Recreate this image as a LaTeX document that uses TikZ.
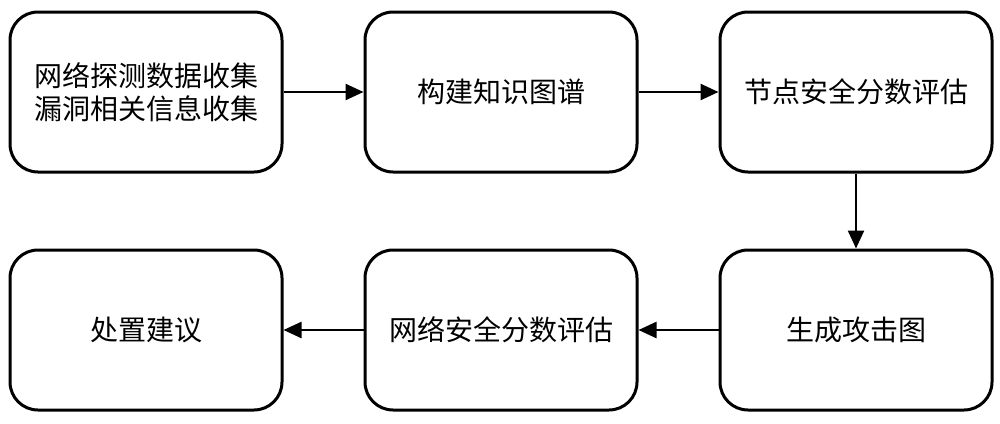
\documentclass[tikz,border=0pt]{standalone}
\usepackage{fontspec}
\newfontfamily\cjk{Noto Sans CJK SC}
\usetikzlibrary{positioning,arrows.meta}

\begin{document}
\begin{tikzpicture}[node distance=37.5pt and 40pt]
	\tikzset{stepbox/.style=
		{draw, line width=1.5pt, rounded corners=14pt, minimum width=136pt, minimum height=80pt,
			align=center, inner sep=0pt, font=\cjk\fontsize{14}{16.5}\selectfont},
		flow/.style={line width=1.2pt, -{Triangle[length=9pt,width=8pt]}}}
	\useasboundingbox (0,0) rectangle (500pt,-211.5pt);
	\node[stepbox] (collect) at (73pt,-46pt) {网络探测数据收集\\漏洞相关信息收集};
	\node[stepbox, right=of collect] (kg) {构建知识图谱};
	\node[stepbox, right=of kg] (nodescore) {节点安全分数评估};
	\node[stepbox, below=of nodescore] (attack) {生成攻击图};
	\node[stepbox, left=of attack] (netscore) {网络安全分数评估};
	\node[stepbox, left=of netscore] (advice) {处置建议};
	\draw[flow] (collect) -- (kg);
	\draw[flow] (kg) -- (nodescore);
	\draw[flow] (nodescore) -- (attack);
	\draw[flow] (attack) -- (netscore);
	\draw[flow] (netscore) -- (advice);
\end{tikzpicture}
\end{document}
